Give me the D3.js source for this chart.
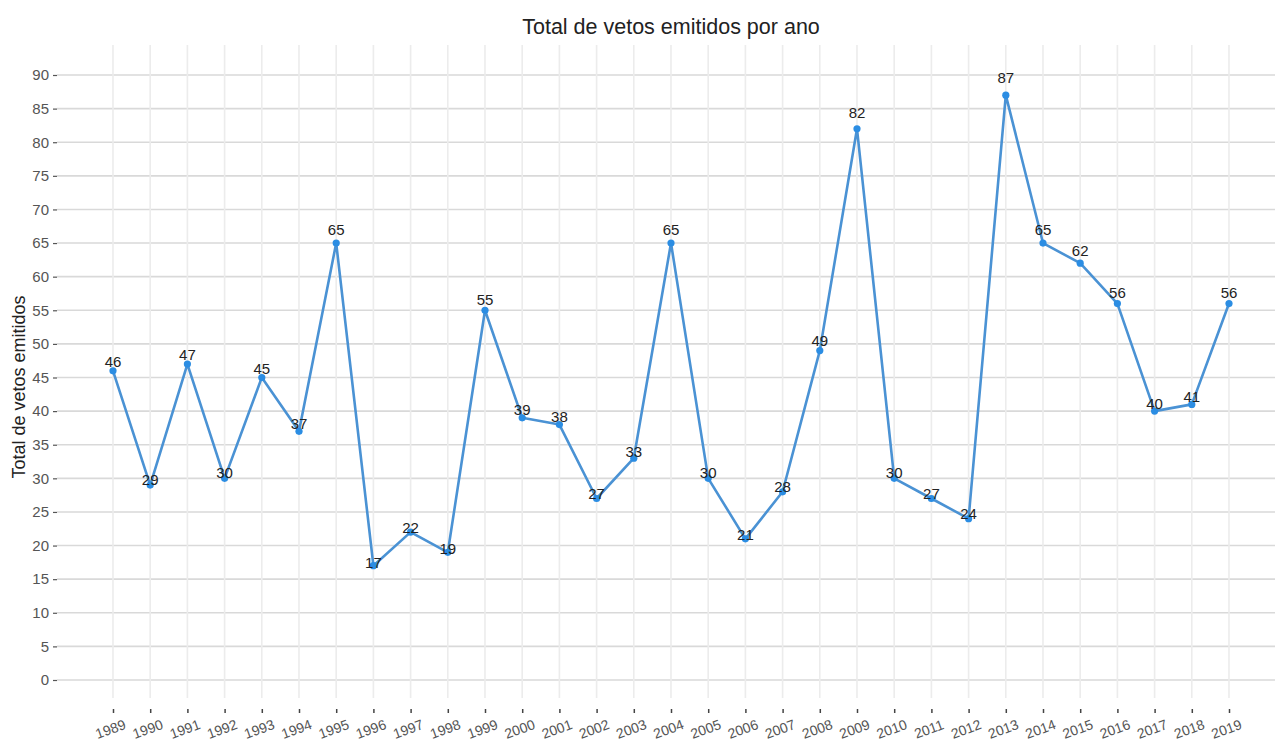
<!DOCTYPE html>
<html>
<head>
<meta charset="utf-8">
<script src="https://cdn.jsdelivr.net/npm/d3@7"></script>
<style>
  html, body { margin: 0; padding: 0; background: #fff; }
  svg { display: block; font-family: "Liberation Sans", Arial, sans-serif; }
</style>
</head>
<body>
<svg id="chart" width="1275" height="743"></svg>
<script>
// Vetos emitidos por ano
const years = [1989, 1990, 1991, 1992, 1993, 1994, 1995, 1996, 1997, 1998,
               1999, 2000, 2001, 2002, 2003, 2004, 2005, 2006, 2007, 2008,
               2009, 2010, 2011, 2012, 2013, 2014, 2015, 2016, 2017, 2018, 2019];
const vetos = [46, 29, 47, 30, 45, 37, 65, 17, 22, 19,
               55, 39, 38, 27, 33, 65, 30, 21, 28, 49,
               82, 30, 27, 24, 87, 65, 62, 56, 40, 41, 56];
const yTicks = [0, 5, 10, 15, 20, 25, 30, 35, 40, 45, 50, 55, 60, 65, 70, 75, 80, 85, 90];

const titleText = "Total de vetos emitidos por ano";
const yTitle = "Total de vetos emitidos";

const svg = d3.select("#chart");
const W = 1275;

const x = d3.scalePoint().domain(years).range([113, 1229]);
const y = d3.scaleLinear().domain([0, 90]).range([680, 75]);

// horizontal grid
svg.append("g").selectAll("line").data(yTicks).join("line")
  .attr("x1", 57).attr("x2", W)
  .attr("y1", d => y(d)).attr("y2", d => y(d))
  .attr("stroke", "#d9d9d9").attr("stroke-width", 1.6);

// vertical grid
svg.append("g").selectAll("line").data(years).join("line")
  .attr("x1", d => x(d)).attr("x2", d => x(d))
  .attr("y1", 45).attr("y2", 698)
  .attr("stroke", "#ececec").attr("stroke-width", 1.6);

// y axis ticks and labels
const yAxis = svg.append("g").attr("transform", "translate(57,0)")
  .call(d3.axisLeft(y).tickValues(yTicks).tickSize(4).tickPadding(4));
yAxis.select(".domain").remove();
yAxis.selectAll(".tick line").attr("stroke", "#555").attr("stroke-width", 1.2);
yAxis.selectAll(".tick text").attr("fill", "#555")
  .attr("font-size", 15).attr("font-family", "Liberation Sans, Arial, sans-serif");

// x axis ticks and labels
const xAxis = svg.append("g").attr("transform", "translate(0,709)")
  .call(d3.axisBottom(x).tickSize(4).tickFormat(d3.format("d")));
xAxis.select(".domain").remove();
xAxis.selectAll(".tick line").attr("stroke", "#444").attr("stroke-width", 1.5);
xAxis.selectAll(".tick text")
  .attr("fill", "#555")
  .attr("font-size", 14)
  .attr("font-family", "Liberation Sans, Arial, sans-serif")
  .attr("text-anchor", "middle")
  .attr("dominant-baseline", "central")
  .attr("y", 0).attr("dy", null)
  .attr("transform", "translate(-3,20) rotate(-20)");

// line
const line = d3.line().x((d, i) => x(years[i])).y(d => y(d));
svg.append("path").datum(vetos)
  .attr("d", line)
  .attr("fill", "none")
  .attr("stroke", "#4a92d4")
  .attr("stroke-width", 2.6)
  .attr("stroke-linejoin", "round");

// points
svg.append("g").selectAll("circle").data(vetos).join("circle")
  .attr("cx", (d, i) => x(years[i]))
  .attr("cy", d => y(d))
  .attr("r", 3.6)
  .attr("fill", "#2b8de3");

// value labels
svg.append("g").selectAll("text").data(vetos).join("text")
  .attr("x", (d, i) => x(years[i]))
  .attr("y", d => y(d * 1.03))
  .attr("text-anchor", "middle")
  .attr("dominant-baseline", "central")
  .attr("font-size", 15)
  .attr("fill", "#222")
  .text(d => d);

// title
svg.append("text")
  .attr("x", 671).attr("y", 27)
  .attr("text-anchor", "middle")
  .attr("dominant-baseline", "central")
  .attr("font-size", 21.5)
  .attr("fill", "#222")
  .text(titleText);

// y axis title
svg.append("text")
  .attr("transform", "translate(19,387) rotate(-90)")
  .attr("text-anchor", "middle")
  .attr("dominant-baseline", "central")
  .attr("font-size", 18)
  .attr("fill", "#222")
  .text(yTitle);
</script>
</body>
</html>
